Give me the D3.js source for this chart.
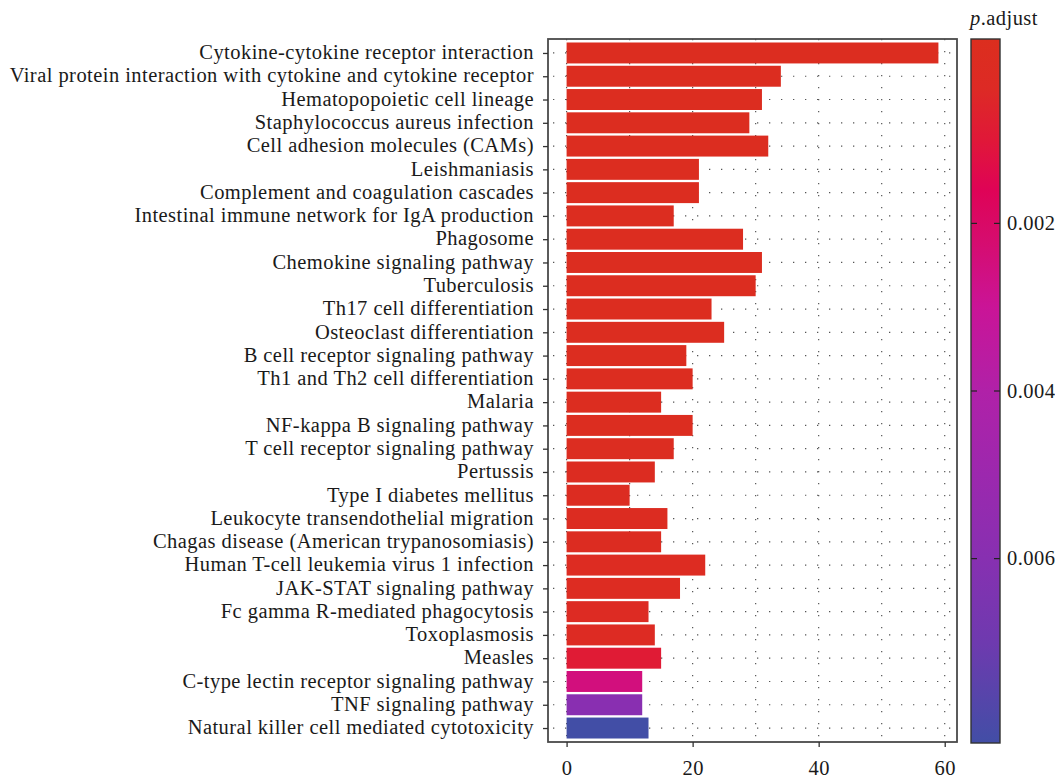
<!DOCTYPE html>
<html>
<head>
<meta charset="utf-8">
<script src="https://cdn.jsdelivr.net/npm/d3@7"></script>
<style>
  body { margin: 0; background: #fff; }
  svg { display: block; }
  text { font-family: "Liberation Serif", "DejaVu Serif", serif; fill: #1a1a1a; }
</style>
</head>
<body>
<svg id="chart" width="1055" height="780"></svg>
<script>
// KEGG enrichment: pathway names, gene counts and adjusted p-values
const pathways = [
  "Cytokine-cytokine receptor interaction",
  "Viral protein interaction with cytokine and cytokine receptor",
  "Hematopopoietic cell lineage",
  "Staphylococcus aureus infection",
  "Cell adhesion molecules (CAMs)",
  "Leishmaniasis",
  "Complement and coagulation cascades",
  "Intestinal immune network for IgA production",
  "Phagosome",
  "Chemokine signaling pathway",
  "Tuberculosis",
  "Th17 cell differentiation",
  "Osteoclast differentiation",
  "B cell receptor signaling pathway",
  "Th1 and Th2 cell differentiation",
  "Malaria",
  "NF-kappa B signaling pathway",
  "T cell receptor signaling pathway",
  "Pertussis",
  "Type I diabetes mellitus",
  "Leukocyte transendothelial migration",
  "Chagas disease (American trypanosomiasis)",
  "Human T-cell leukemia virus 1 infection",
  "JAK-STAT signaling pathway",
  "Fc gamma R-mediated phagocytosis",
  "Toxoplasmosis",
  "Measles",
  "C-type lectin receptor signaling pathway",
  "TNF signaling pathway",
  "Natural killer cell mediated cytotoxicity"
];
const geneCounts = [59, 34, 31, 29, 32, 21, 21, 17, 28, 31, 30, 23, 25, 19, 20,
                    15, 20, 17, 14, 10, 16, 15, 22, 18, 13, 14, 15, 12, 12, 13];
const pAdjust = [1.2e-14, 3.1e-12, 8.4e-11, 2.6e-10, 9.0e-10, 4.1e-9, 7.7e-9, 1.5e-8,
                 3.3e-8, 6.2e-8, 1.1e-7, 2.4e-7, 4.9e-7, 1.0e-6, 2.2e-6, 4.5e-6,
                 8.1e-6, 1.6e-5, 2.9e-5, 4.4e-5, 6.8e-5, 9.5e-5, 1.3e-4, 1.7e-4,
                 2.1e-4, 2.6e-4, 0.0009, 0.0025, 0.0059, 0.0082];
const xTicks = [0, 20, 40, 60];
const xGrid = [0, 10, 20, 30, 40, 50, 60];
const legendTicks = [0.002, 0.004, 0.006];
// colour gradient for p.adjust (value, colour)
const colorStops = [
  [-0.0002, "#dc2e1e"], [0.0004, "#dd2a25"], [0.0010, "#e01838"],
  [0.0016, "#df0356"], [0.0022, "#d60c6e"], [0.0030, "#ca1497"],
  [0.0040, "#b021a8"], [0.0050, "#9c28ae"], [0.0060, "#8730b1"],
  [0.0070, "#6e3aaf"], [0.0082, "#424ea6"]
];
const legendDomain = [-0.0002, 0.0082];

const FONT = "Liberation Serif, serif";
const FS = 20.5;
const LS = 0.45;

const svg = d3.select("#chart");
const panel = { left: 548, right: 957, top: 39, bottom: 742 };

const x = d3.scaleLinear()
  .domain([-0.05 * 59, 59 * 1.05])
  .range([panel.left, panel.right]);
const y = d3.scalePoint()
  .domain(pathways)
  .range([panel.top, panel.bottom])
  .padding(0.6);
const barH = y.step() * 0.9;

const color = d3.scaleLinear()
  .domain(colorStops.map(d => d[0]))
  .range(colorStops.map(d => d[1]))
  .interpolate(d3.interpolateRgb)
  .clamp(true);

// dotted grid
const grid = svg.append("g");
grid.selectAll("line.v").data(xGrid).join("line")
  .attr("x1", d => x(d)).attr("x2", d => x(d))
  .attr("y1", panel.top).attr("y2", panel.bottom)
  .attr("stroke", "#555").attr("stroke-width", 1.2)
  .attr("stroke-dasharray", "1.3,10.7");
grid.selectAll("line.h").data(pathways).join("line")
  .attr("x1", panel.left).attr("x2", panel.right)
  .attr("y1", d => y(d)).attr("y2", d => y(d))
  .attr("stroke", "#555").attr("stroke-width", 1.2)
  .attr("stroke-dasharray", "1.3,10.7")
  .attr("stroke-dashoffset", -5);

// bars
svg.append("g").selectAll("rect").data(pathways).join("rect")
  .attr("x", x(0))
  .attr("y", d => y(d) - barH / 2)
  .attr("width", (d, i) => x(geneCounts[i]) - x(0))
  .attr("height", barH)
  .attr("fill", (d, i) => color(pAdjust[i]));

// panel border
svg.append("rect")
  .attr("x", panel.left).attr("y", panel.top)
  .attr("width", panel.right - panel.left).attr("height", panel.bottom - panel.top)
  .attr("fill", "none").attr("stroke", "#4a4a4a").attr("stroke-width", 1.8);

// axes
const yAxis = svg.append("g")
  .attr("transform", `translate(${panel.left},0)`)
  .call(d3.axisLeft(y).tickSize(5).tickPadding(9));
yAxis.select(".domain").remove();
yAxis.selectAll(".tick line").attr("stroke", "#333").attr("stroke-width", 1.3);
yAxis.selectAll(".tick text")
  .attr("font-family", FONT).attr("font-size", FS)
  .attr("letter-spacing", LS).attr("dy", "0.28em")
  .attr("fill", "#1a1a1a");

const xAxis = svg.append("g")
  .attr("transform", `translate(0,${panel.bottom})`)
  .call(d3.axisBottom(x).tickValues(xTicks).tickSize(5).tickPadding(13));
xAxis.select(".domain").remove();
xAxis.selectAll(".tick line").attr("stroke", "#333").attr("stroke-width", 1.3);
xAxis.selectAll(".tick text")
  .attr("font-family", FONT).attr("font-size", FS)
  .attr("letter-spacing", LS).attr("fill", "#1a1a1a");

// colour bar legend
const lg = { x: 971, w: 29, top: 39, bottom: 743 };
const ly = d3.scaleLinear().domain(legendDomain).range([lg.top, lg.bottom]);
const defs = svg.append("defs");
const grad = defs.append("linearGradient").attr("id", "pgrad")
  .attr("x1", 0).attr("x2", 0).attr("y1", 0).attr("y2", 1);
grad.selectAll("stop").data(colorStops).join("stop")
  .attr("offset", d => (ly(d[0]) - lg.top) / (lg.bottom - lg.top))
  .attr("stop-color", d => d[1]);
svg.append("rect")
  .attr("x", lg.x).attr("y", lg.top)
  .attr("width", lg.w).attr("height", lg.bottom - lg.top)
  .attr("fill", "url(#pgrad)")
  .attr("stroke", "#333").attr("stroke-width", 1.4);
const lt = svg.append("g").selectAll("g").data(legendTicks).join("g");
lt.append("line")
  .attr("x1", lg.x).attr("x2", lg.x + 6)
  .attr("y1", d => ly(d)).attr("y2", d => ly(d))
  .attr("stroke", "#222").attr("stroke-width", 1.2);
lt.append("line")
  .attr("x1", lg.x + lg.w - 6).attr("x2", lg.x + lg.w)
  .attr("y1", d => ly(d)).attr("y2", d => ly(d))
  .attr("stroke", "#222").attr("stroke-width", 1.2);
lt.append("text")
  .attr("x", lg.x + lg.w + 7).attr("y", d => ly(d))
  .attr("dy", "0.33em").attr("font-size", FS).attr("letter-spacing", LS)
  .text(d => d3.format(".3f")(d));

const title = svg.append("text").attr("x", 970).attr("y", 25)
  .attr("font-size", FS).attr("letter-spacing", LS);
title.append("tspan").attr("font-style", "italic").text("p");
title.append("tspan").text(".adjust");
</script>
</body>
</html>
